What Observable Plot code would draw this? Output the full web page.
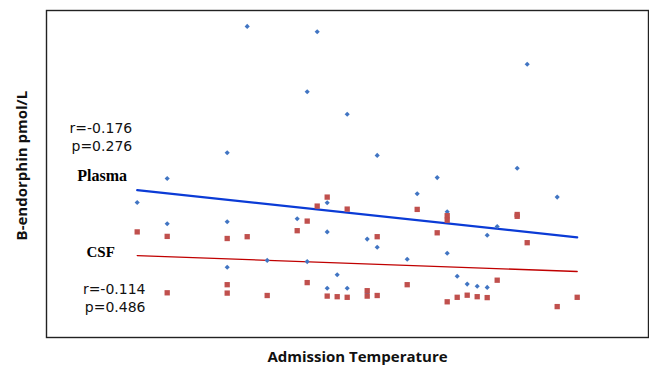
<!DOCTYPE html>
<html>
<head>
<meta charset="utf-8">
<script src="https://cdn.jsdelivr.net/npm/d3@7"></script>
<script src="https://cdn.jsdelivr.net/npm/@observablehq/plot@0.6"></script>
<style>
  html, body { margin: 0; padding: 0; background: #fff; }
  #chart { width: 649px; height: 366px; }
</style>
</head>
<body>
<div id="chart"></div>
<script>
// Plasma β-endorphin (blue diamonds)
const plasmaTemp = [37.1, 37.8, 37.7, 36.9, 39.9, 38.1, 38.4, 39.8, 36.3, 36.0, 37.9, 36.3, 36.9, 37.6, 37.9, 36.9, 37.3, 37.7, 38.0, 37.9, 39.0, 38.8, 40.2, 39.1, 39.6, 39.5, 38.3, 38.4, 38.7, 39.1, 38.1, 39.2, 39.3, 39.4, 39.5, 38.3];
const plasmaVal  = [103.7, 101.9, 81.9, 61.6, 91.1, 74.4, 60.7, 56.4, 53.0, 45.0, 44.9, 37.9, 38.6, 39.6, 35.2, 23.4, 25.7, 25.3, 20.9, 16.4, 53.3, 47.9, 46.8, 41.9, 37.0, 34.1, 32.8, 30.1, 26.1, 28.1, 16.4, 20.4, 17.8, 17.1, 16.7, 14.8];

// CSF β-endorphin (red squares)
const csfTemp = [36.0, 36.3, 36.9, 37.1, 37.6, 37.7, 37.8, 37.9, 36.3, 36.9, 36.9, 37.3, 37.7, 37.9, 38.0, 38.1, 38.8, 39.1, 39.1, 39.8, 39.8, 38.4, 39.0, 39.9, 39.6, 38.7, 38.3, 38.3, 38.1, 38.4, 39.2, 39.3, 39.4, 39.5, 39.1, 40.2, 40.4];
const csfVal  = [35.2, 33.7, 33.0, 33.6, 35.6, 38.8, 43.8, 46.8, 14.9, 17.6, 14.8, 14.0, 18.3, 13.8, 13.6, 42.8, 42.7, 40.6, 39.1, 41.0, 40.4, 33.6, 34.9, 31.6, 19.1, 17.6, 15.6, 13.8, 13.4, 14.0, 13.4, 14.1, 13.6, 13.3, 11.9, 10.3, 13.4];

// Fitted trend lines (end points)
const trendTemp   = [36.0, 40.4];
const plasmaTrend = [49.1, 33.4];
const csfTrend    = [27.3, 22.0];

// Labels
const xLabel = "Admission Temperature";
const yLabel = "B-endorphin pmol/L";
const plasmaStats = ["r=-0.176", "p=0.276"];
const csfStats = ["r=-0.114", "p=0.486"];

const plasma = plasmaTemp.map((t, i) => ({t, v: plasmaVal[i]}));
const csf = csfTemp.map((t, i) => ({t, v: csfVal[i]}));
const pLine = trendTemp.map((t, i) => ({t, v: plasmaTrend[i]}));
const cLine = trendTemp.map((t, i) => ({t, v: csfTrend[i]}));

const sans = "'Open Sans', 'Liberation Sans', sans-serif";
const statFont = "'DejaVu Sans', sans-serif";
const serif = "'Liberation Serif', 'DejaVu Serif', serif";

const chart = Plot.plot({
  width: 649,
  height: 366,
  marginLeft: 46,
  marginRight: 1,
  marginTop: 10,
  marginBottom: 29,
  style: {fontFamily: sans, background: "#fff"},
  x: {domain: [35.093, 41.113], axis: null},
  y: {domain: [0, 109], axis: null},
  marks: [
    Plot.frame({stroke: "#222", strokeWidth: 1.4}),
    Plot.line(pLine, {x: "t", y: "v", stroke: "#0b3bd6", strokeWidth: 2.2}),
    Plot.line(cLine, {x: "t", y: "v", stroke: "#c00000", strokeWidth: 1.3}),
    Plot.dot(plasma, {x: "t", y: "v", symbol: "diamond2", r: 2.3, fill: "#4175c3", stroke: "none"}),
    Plot.dot(csf, {x: "t", y: "v", symbol: "square", r: 3.0, fill: "#c0504d", stroke: "none"}),
    Plot.text([plasmaStats[0]], {x: 35.95, y: 69.8, text: d => d, textAnchor: "end", fontSize: 14, fontFamily: statFont, fill: "#111"}),
    Plot.text([plasmaStats[1]], {x: 35.95, y: 63.8, text: d => d, textAnchor: "end", fontSize: 14, fontFamily: statFont, fill: "#111"}),
    Plot.text(["Plasma"], {x: 35.4, y: 54, text: d => d, textAnchor: "start", fontSize: 16, fontWeight: "bold", fontFamily: serif, fill: "#000"}),
    Plot.text(["CSF"], {x: 35.493, y: 28.3, text: d => d, textAnchor: "start", fontSize: 15, fontWeight: "bold", fontFamily: serif, fill: "#000"}),
    Plot.text([csfStats[0]], {x: 36.083, y: 15.9, text: d => d, textAnchor: "end", fontSize: 14, fontFamily: statFont, fill: "#111"}),
    Plot.text([csfStats[1]], {x: 36.083, y: 10.0, text: d => d, textAnchor: "end", fontSize: 14, fontFamily: statFont, fill: "#111"}),
    Plot.text([xLabel], {frameAnchor: "bottom", dx: 10, dy: 24, text: d => d, fontSize: 15, fontWeight: "bold", fill: "#111"}),
    Plot.text([yLabel], {frameAnchor: "left", y: 57.3, dx: -24, rotate: -90, textAnchor: "middle", text: d => d, fontSize: 15, fontWeight: "bold", fill: "#111"})
  ]
});
document.getElementById("chart").appendChild(chart);
</script>
</body>
</html>
